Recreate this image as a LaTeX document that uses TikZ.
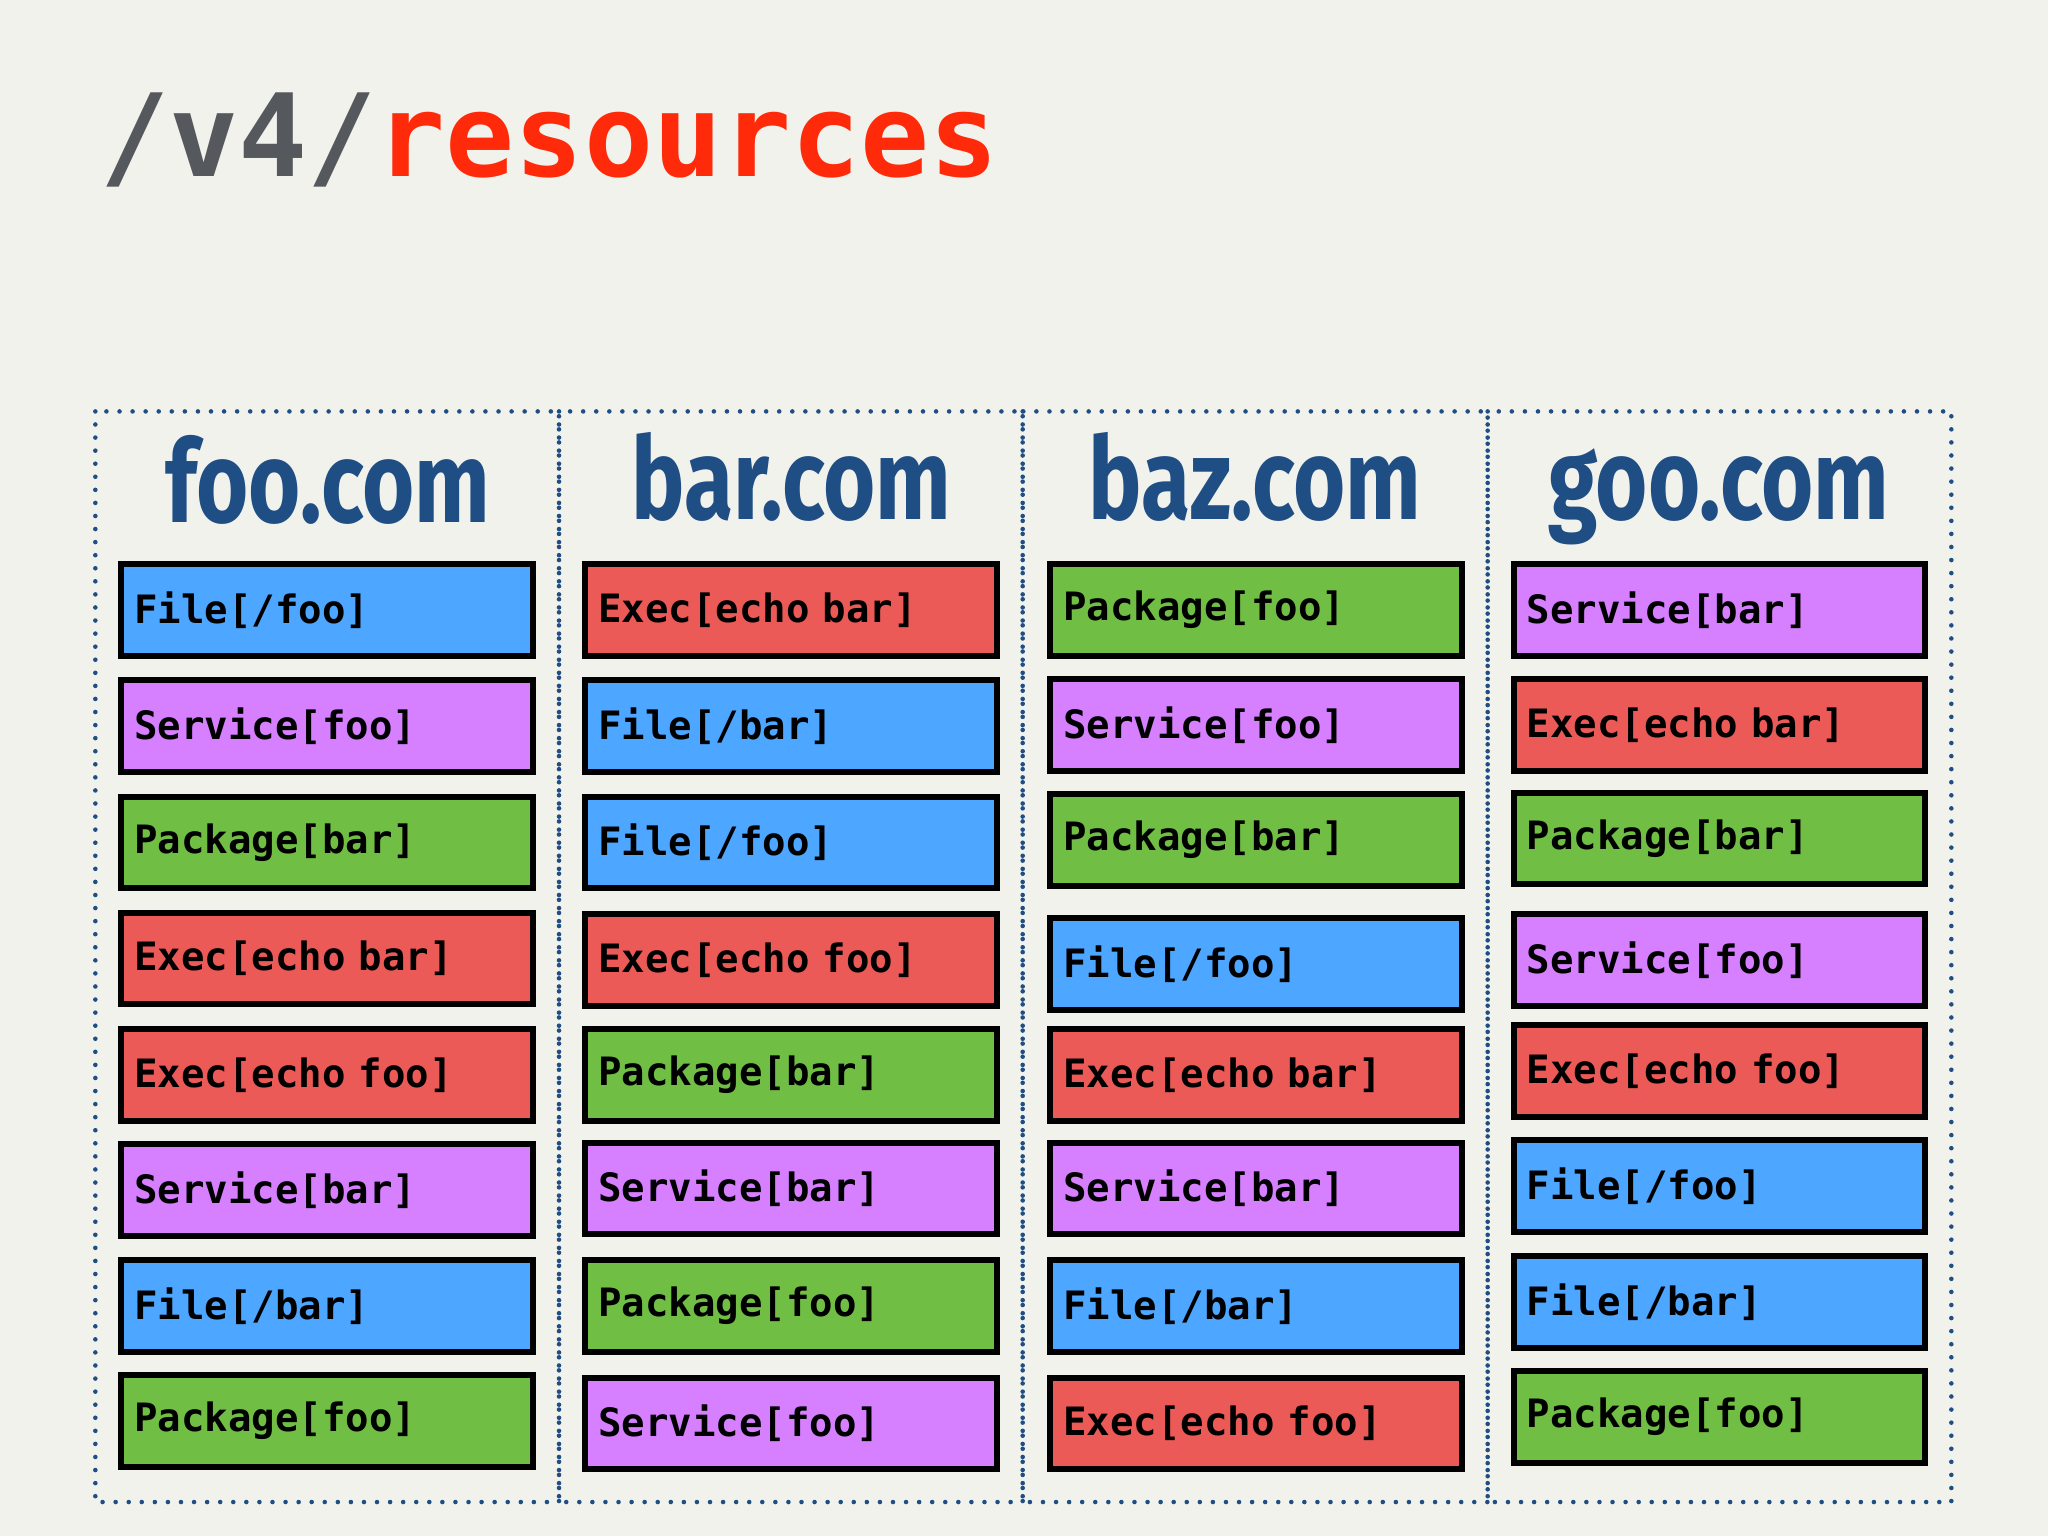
\documentclass[tikz,border=0pt]{standalone}
\usepackage{fontspec}
\usepackage{graphicx}
\setmonofont{DejaVu Sans Mono}
\newfontfamily\hdfont{Fira Sans}
\definecolor{bg}{HTML}{F2F2ED}
\definecolor{cB}{HTML}{4DA6FF}
\definecolor{cP}{HTML}{D680FF}
\definecolor{cG}{HTML}{70BF44}
\definecolor{cR}{HTML}{EB5A57}
\definecolor{hdblue}{HTML}{1F4E85}
\definecolor{titlegray}{HTML}{55585C}
\definecolor{titlered}{HTML}{FF2A0A}
\tikzset{
 res/.style={draw=black,line width=1.3pt,minimum width=3.15cm,minimum height=0.7cm,
   text width=2.95cm,align=left,inner xsep=0.1cm,inner ysep=0pt,
   font=\ttfamily\bfseries\fontsize{8.5}{10}\selectfont,text=black},
 colbox/.style={draw=hdblue,line width=0.035cm,line cap=round,dash pattern=on 0pt off 0.1cm},
 hd/.style={anchor=base,text=hdblue,font=\hdfont\bfseries\fontsize{25}{28}\selectfont},
}
\newcommand{\hdtext}[1]{\scalebox{0.78}[1]{#1}}
\begin{document}
\begin{tikzpicture}[x=0.01cm,y=-0.01cm]
\fill[bg] (0,0) rectangle (1568,1176);
\node[anchor=base west,inner sep=0pt,font=\ttfamily\bfseries\fontsize{25}{30}\selectfont] (title) at (76,135)
 {\textcolor{titlegray}{/v4/}\textcolor{titlered}{resources}};
\draw[colbox] (73,315) rectangle (428,1150);
\draw[colbox] (428,315) rectangle (783,1150);
\draw[colbox] (783,315) rectangle (1139,1150);
\draw[colbox] (1139,315) rectangle (1494,1150);
\node[hd] (h1) at (251,400) {\hdtext{foo.com}};
\node[hd] (h2) at (606,398) {\hdtext{bar.com}};
\node[hd] (h3) at (961,398) {\hdtext{baz.com}};
\node[hd] (h4) at (1316,398) {\hdtext{goo.com}};
% column 1
\node[res,fill=cB] (a1) at (250.5,467) {File[/foo]};
\node[res,fill=cP] (a2) at (250.5,556) {Service[foo]};
\node[res,fill=cG] (a3) at (250.5,645) {Package[bar]};
\node[res,fill=cR] (a4) at (250.5,734) {Exec[echo bar]};
\node[res,fill=cR] (a5) at (250.5,823) {Exec[echo foo]};
\node[res,fill=cP] (a6) at (250.5,911) {Service[bar]};
\node[res,fill=cB] (a7) at (250.5,1000) {File[/bar]};
\node[res,fill=cG] (a8) at (250.5,1088) {Package[foo]};
% column 2
\node[res,fill=cR] (b1) at (605.5,467) {Exec[echo bar]};
\node[res,fill=cB] (b2) at (605.5,556) {File[/bar]};
\node[res,fill=cB] (b3) at (605.5,645) {File[/foo]};
\node[res,fill=cR] (b4) at (605.5,735) {Exec[echo foo]};
\node[res,fill=cG] (b5) at (605.5,823) {Package[bar]};
\node[res,fill=cP] (b6) at (605.5,910) {Service[bar]};
\node[res,fill=cG] (b7) at (605.5,1000) {Package[foo]};
\node[res,fill=cP] (b8) at (605.5,1090) {Service[foo]};
% column 3
\node[res,fill=cG] (c1) at (961.5,467) {Package[foo]};
\node[res,fill=cP] (c2) at (961.5,555) {Service[foo]};
\node[res,fill=cG] (c3) at (961.5,643) {Package[bar]};
\node[res,fill=cB] (c4) at (961.5,738) {File[/foo]};
\node[res,fill=cR] (c5) at (961.5,823) {Exec[echo bar]};
\node[res,fill=cP] (c6) at (961.5,910) {Service[bar]};
\node[res,fill=cB] (c7) at (961.5,1000) {File[/bar]};
\node[res,fill=cR] (c8) at (961.5,1090) {Exec[echo foo]};
% column 4
\node[res,fill=cP] (d1) at (1316.5,467) {Service[bar]};
\node[res,fill=cR] (d2) at (1316.5,555) {Exec[echo bar]};
\node[res,fill=cG] (d3) at (1316.5,642) {Package[bar]};
\node[res,fill=cP] (d4) at (1316.5,735) {Service[foo]};
\node[res,fill=cR] (d5) at (1316.5,820) {Exec[echo foo]};
\node[res,fill=cB] (d6) at (1316.5,908) {File[/foo]};
\node[res,fill=cB] (d7) at (1316.5,997) {File[/bar]};
\node[res,fill=cG] (d8) at (1316.5,1085) {Package[foo]};
\end{tikzpicture}
\end{document}
